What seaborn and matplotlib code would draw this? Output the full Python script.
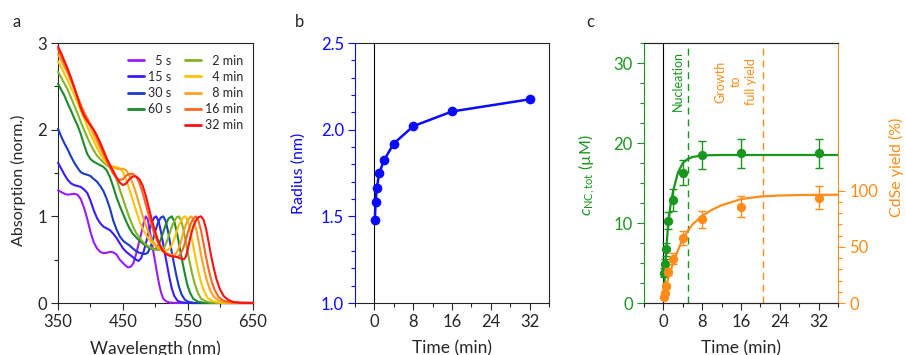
import numpy as np
import pandas as pd
import matplotlib
matplotlib.use("Agg")
import matplotlib.pyplot as plt
from matplotlib.lines import Line2D
from matplotlib.ticker import MultipleLocator, FixedLocator
import seaborn as sns

# ---------------- data: panel a (absorption spectra) ----------------
spec_labels = ["5 s", "15 s", "30 s", "60 s", "2 min", "4 min", "8 min", "16 min", "32 min"]
spec_colors = ["#9b1bff", "#3a1bff", "#1a3ac8", "#1a8a2a", "#84b424",
               "#ffc400", "#ffa020", "#ff6420", "#ff1010"]

wl_5s = [350, 355, 360, 365, 370, 375, 380, 385, 390, 395, 400, 405, 410, 415, 420, 425, 430, 435,
         440, 445, 450, 455, 458, 462, 466, 470, 474, 478, 482, 485, 488, 491, 494, 497, 500, 503,
         506, 509, 512, 516, 522, 535, 650]
abs_5s = [1.30, 1.28, 1.26, 1.25, 1.255, 1.26, 1.25, 1.20, 1.10, 0.97, 0.82, 0.70, 0.63, 0.59, 0.575,
          0.58, 0.59, 0.585, 0.56, 0.50, 0.46, 0.425, 0.41, 0.42, 0.46, 0.56, 0.68, 0.80, 0.93, 1.0,
          0.97, 0.84, 0.72, 0.58, 0.45, 0.32, 0.20, 0.11, 0.05, 0.02, 0.005, 0.0, 0.0]

wl_15s = [350, 355, 360, 365, 370, 375, 380, 385, 390, 395, 400, 405, 410, 415, 420, 425, 430, 435,
          440, 445, 450, 455, 460, 465, 470, 474, 478, 482, 486, 490, 494, 498, 501, 505, 509, 513,
          517, 521, 525, 529, 534, 540, 550, 650]
abs_15s = [1.62, 1.55, 1.48, 1.42, 1.38, 1.36, 1.35, 1.34, 1.31, 1.27, 1.18, 1.07, 0.98, 0.92, 0.88,
           0.86, 0.84, 0.80, 0.75, 0.69, 0.63, 0.59, 0.56, 0.53, 0.50, 0.485, 0.52, 0.60, 0.71, 0.84,
           0.93, 0.985, 1.0, 0.94, 0.80, 0.63, 0.47, 0.31, 0.17, 0.08, 0.025, 0.008, 0.0, 0.0]

wl_30s = [350, 355, 360, 365, 370, 375, 380, 385, 390, 395, 400, 405, 410, 415, 420, 425, 430, 435,
          440, 445, 450, 455, 460, 465, 470, 475, 480, 484, 488, 492, 496, 500, 504, 508, 512, 516,
          520, 524, 528, 532, 536, 540, 545, 550, 560, 650]
abs_30s = [2.01, 1.92, 1.84, 1.77, 1.69, 1.62, 1.56, 1.51, 1.49, 1.48, 1.465, 1.43, 1.40, 1.35, 1.29,
           1.20, 1.09, 0.95, 0.85, 0.77, 0.72, 0.69, 0.665, 0.63, 0.60, 0.58, 0.57, 0.565, 0.58, 0.64,
           0.73, 0.84, 0.93, 0.985, 1.0, 0.94, 0.80, 0.63, 0.47, 0.32, 0.19, 0.10, 0.04, 0.015, 0.0, 0.0]

wl_60s = [350, 355, 360, 365, 370, 375, 380, 385, 390, 395, 400, 405, 410, 415, 420, 425, 430, 435,
          440, 445, 450, 455, 460, 465, 470, 475, 480, 485, 490, 495, 500, 504, 508, 512, 516, 520,
          525, 529, 533, 537, 541, 545, 549, 553, 558, 565, 575, 650]
abs_60s = [2.53, 2.46, 2.39, 2.30, 2.22, 2.13, 2.05, 1.95, 1.83, 1.72, 1.66, 1.63, 1.61, 1.59, 1.57,
           1.53, 1.45, 1.34, 1.22, 1.12, 1.03, 0.94, 0.86, 0.80, 0.76, 0.72, 0.69, 0.66, 0.635, 0.62,
           0.625, 0.66, 0.73, 0.82, 0.91, 0.975, 1.0, 0.94, 0.81, 0.65, 0.49, 0.34, 0.21, 0.12, 0.05,
           0.015, 0.0, 0.0]

wl_2m = [350, 355, 360, 365, 370, 375, 380, 385, 390, 395, 400, 405, 410, 415, 420, 425, 430, 435,
         440, 445, 450, 455, 460, 465, 470, 475, 480, 485, 490, 495, 500, 505, 510, 514, 518, 522,
         526, 530, 533, 536, 540, 544, 548, 552, 556, 560, 565, 570, 577, 585, 600, 650]
abs_2m = [2.67, 2.60, 2.53, 2.46, 2.37, 2.28, 2.19, 2.09, 2.00, 1.91, 1.83, 1.76, 1.70, 1.66, 1.62,
          1.59, 1.565, 1.53, 1.43, 1.31, 1.20, 1.09, 0.98, 0.89, 0.81, 0.76, 0.71, 0.675, 0.65, 0.63,
          0.615, 0.61, 0.615, 0.65, 0.72, 0.81, 0.90, 0.96, 0.99, 1.0, 0.94, 0.81, 0.65, 0.49, 0.35,
          0.23, 0.12, 0.05, 0.02, 0.005, 0.0, 0.0]

wl_4m = [350, 355, 360, 365, 370, 375, 380, 385, 390, 395, 400, 405, 410, 415, 420, 425, 430, 435,
         440, 445, 450, 455, 460, 465, 470, 475, 480, 485, 490, 495, 500, 505, 510, 515, 520, 524,
         528, 532, 536, 540, 543, 546, 550, 554, 558, 562, 566, 570, 575, 580, 587, 595, 610, 650]
abs_4m = [2.79, 2.72, 2.64, 2.57, 2.48, 2.40, 2.31, 2.22, 2.13, 2.04, 1.95, 1.87, 1.79, 1.72, 1.66,
          1.61, 1.58, 1.575, 1.57, 1.555, 1.51, 1.42, 1.31, 1.19, 1.07, 0.95, 0.86, 0.79, 0.73, 0.69,
          0.66, 0.64, 0.62, 0.61, 0.615, 0.65, 0.72, 0.81, 0.90, 0.96, 0.99, 1.0, 0.94, 0.82, 0.66,
          0.50, 0.36, 0.24, 0.13, 0.06, 0.025, 0.008, 0.0, 0.0]

wl_8m = [350, 355, 360, 365, 370, 375, 380, 385, 390, 395, 400, 405, 410, 415, 420, 425, 430, 435,
         440, 445, 450, 455, 460, 465, 470, 475, 480, 485, 490, 495, 500, 505, 510, 515, 520, 525,
         530, 534, 538, 542, 546, 550, 553, 555, 559, 563, 567, 571, 575, 579, 584, 590, 597, 605,
         620, 650]
abs_8m = [2.87, 2.80, 2.72, 2.65, 2.56, 2.47, 2.38, 2.29, 2.20, 2.12, 2.03, 1.94, 1.86, 1.78, 1.70,
          1.64, 1.59, 1.565, 1.55, 1.545, 1.55, 1.53, 1.47, 1.38, 1.27, 1.14, 1.01, 0.90, 0.80, 0.72,
          0.67, 0.63, 0.60, 0.58, 0.565, 0.555, 0.56, 0.60, 0.68, 0.79, 0.89, 0.96, 0.99, 1.0, 0.95,
          0.84, 0.68, 0.52, 0.38, 0.26, 0.15, 0.07, 0.03, 0.01, 0.0, 0.0]

wl_16m = [350, 355, 360, 365, 370, 375, 380, 385, 390, 395, 400, 405, 410, 415, 420, 425, 430, 435,
          440, 445, 450, 455, 460, 465, 470, 475, 480, 485, 490, 495, 500, 505, 510, 515, 520, 525,
          530, 535, 538, 542, 546, 550, 554, 558, 562, 566, 570, 574, 578, 582, 586, 591, 597, 604,
          612, 625, 650]
abs_16m = [2.93, 2.85, 2.76, 2.67, 2.58, 2.48, 2.38, 2.28, 2.20, 2.13, 2.06, 1.99, 1.91, 1.82, 1.73,
           1.64, 1.56, 1.49, 1.44, 1.42, 1.43, 1.47, 1.49, 1.49, 1.46, 1.39, 1.28, 1.14, 1.00, 0.87,
           0.76, 0.68, 0.62, 0.58, 0.555, 0.54, 0.535, 0.535, 0.56, 0.62, 0.71, 0.82, 0.91, 0.97, 1.0,
           0.95, 0.84, 0.68, 0.52, 0.38, 0.26, 0.15, 0.07, 0.03, 0.01, 0.0, 0.0]

wl_32m = [350, 355, 360, 365, 370, 375, 380, 385, 390, 395, 400, 405, 410, 415, 420, 425, 430, 435,
          440, 445, 450, 455, 460, 465, 470, 475, 480, 485, 490, 495, 500, 505, 510, 515, 520, 525,
          530, 535, 540, 544, 547, 550, 554, 558, 562, 566, 570, 574, 578, 582, 586, 590, 594, 599,
          605, 612, 620, 630, 650]
abs_32m = [2.96, 2.88, 2.79, 2.70, 2.60, 2.49, 2.37, 2.25, 2.16, 2.10, 2.05, 2.00, 1.93, 1.85, 1.76,
           1.67, 1.59, 1.52, 1.45, 1.39, 1.36, 1.38, 1.43, 1.46, 1.46, 1.43, 1.36, 1.24, 1.09, 0.94,
           0.81, 0.70, 0.62, 0.57, 0.55, 0.54, 0.535, 0.525, 0.51, 0.505, 0.54, 0.63, 0.77, 0.88, 0.95,
           0.99, 1.0, 0.96, 0.85, 0.69, 0.53, 0.39, 0.27, 0.16, 0.08, 0.035, 0.012, 0.003, 0.0]

# ---------------- data: panel b (radius) ----------------
time_min = [0.083, 0.25, 0.5, 1, 2, 4, 8, 16, 32]
radius_nm = [1.48, 1.58, 1.665, 1.75, 1.825, 1.92, 2.02, 2.105, 2.175]

# ---------------- data: panel c (concentration, yield) ----------------
conc_uM = [3.8, 4.9, 6.7, 10.3, 12.9, 16.3, 18.5, 18.7, 18.7]
conc_err = [0.6, 0.6, 0.8, 1.1, 1.4, 1.6, 1.8, 1.85, 1.85]
yield_pct = [5.4, 9.2, 15.2, 28.0, 39.6, 57.7, 74.7, 85.7, 93.8]
yield_err = [0.8, 1.0, 1.5, 3.0, 4.5, 6.0, 7.6, 9.5, 10.0]

fit_t_conc = [0.1, 0.3, 0.5, 0.75, 1, 1.5, 2, 3, 4, 5, 6, 8, 12, 36]
fit_conc = [1.0, 3.6, 5.8, 8.0, 9.9, 12.4, 14.0, 16.3, 17.5, 18.0, 18.25, 18.45, 18.5, 18.5]
fit_t_yield = [0.08, 0.5, 1, 1.5, 2, 3, 4, 5, 6, 8, 10, 12, 16, 20, 24, 28, 32, 36]
fit_yield = [6, 14, 22, 29, 36, 47, 57, 64, 70, 77.5, 83, 87, 92.5, 94.8, 95.7, 96.1, 96.3, 96.4]

# ---------------- style ----------------
sns.set_style("ticks")
plt.rcParams['font.family'] = ['Lato', 'DejaVu Sans']
plt.rcParams['mathtext.fontset'] = 'custom'
plt.rcParams['mathtext.rm'] = 'Lato'
plt.rcParams['mathtext.it'] = 'Lato:italic'
plt.rcParams['axes.linewidth'] = 0.8

TICK_FS = 12
YLAB_FS = 11.5
XLAB_FS = 12.5
BLUE = "#0a0aff"
GREEN = "#19961e"
ORANGE = "#ff8c1a"

fig = plt.figure(figsize=(9.06, 3.55), dpi=100)
W, H = 906.0, 355.0


def axes_px(left, top, right, bottom):
    return fig.add_axes([left / W, 1 - bottom / H, (right - left) / W, (bottom - top) / H])


def style_ticks(ax):
    ax.tick_params(which='major', direction='out', length=5, width=0.8, labelsize=TICK_FS, pad=3)
    ax.tick_params(which='minor', direction='out', length=3, width=0.8)


XLAB_Y = (303 - 340) / 260

# ---------------- panel a ----------------
ax_a = axes_px(58, 43, 253, 303)
wls = [wl_5s, wl_15s, wl_30s, wl_60s, wl_2m, wl_4m, wl_8m, wl_16m, wl_32m]
abss = [abs_5s, abs_15s, abs_30s, abs_60s, abs_2m, abs_4m, abs_8m, abs_16m, abs_32m]
df_spec = pd.concat([pd.DataFrame({"wl": w, "A": a, "time": lab})
                     for w, a, lab in zip(wls, abss, spec_labels)], ignore_index=True)
sns.lineplot(data=df_spec, x="wl", y="A", hue="time", hue_order=spec_labels,
             palette=spec_colors, estimator=None, sort=False, legend=False,
             lw=1.5, ax=ax_a, clip_on=False, zorder=3)
ax_a.set_xlim(350, 650)
ax_a.set_ylim(0, 3)
ax_a.xaxis.set_major_locator(FixedLocator([350, 450, 550, 650]))
ax_a.xaxis.set_minor_locator(MultipleLocator(50))
ax_a.yaxis.set_major_locator(MultipleLocator(1))
ax_a.yaxis.set_minor_locator(MultipleLocator(0.5))
style_ticks(ax_a)
ax_a.set_xlabel("Wavelength (nm)", fontsize=XLAB_FS)
ax_a.set_ylabel("Absorption (norm.)", fontsize=YLAB_FS)
ax_a.xaxis.set_label_coords(0.5, XLAB_Y)
ax_a.yaxis.set_label_coords((26 - 58) / 195, 0.47)

fs = "\u2007"
leg_labels = [fs + "5 s", "15 s", "30 s", "60 s", " ",
              fs + "2 min", fs + "4 min", fs + "8 min", "16 min", "32 min"]
leg_colors = spec_colors[:4] + ["none"] + spec_colors[4:]
handles = [Line2D([0], [0], color=c, lw=2) for c in leg_colors]
ax_a.legend(handles, leg_labels, ncol=2, loc="upper left", bbox_to_anchor=(0.36, 0.955),
            frameon=False, fontsize=9, handlelength=1.25, handletextpad=0.35,
            columnspacing=1.1, labelspacing=0.33, borderpad=0, borderaxespad=0)

# ---------------- panel b ----------------
ax_b = axes_px(355, 43, 549, 303)
ax_b.axvline(0, color="black", lw=0.8, zorder=1)
sns.lineplot(x=time_min, y=radius_nm, ax=ax_b, color=BLUE, marker="o", markersize=7,
             markeredgewidth=0, lw=1.8, zorder=3)
ax_b.set_xlim(-4, 36)
ax_b.set_ylim(1.0, 2.5)
ax_b.xaxis.set_major_locator(MultipleLocator(8))
ax_b.xaxis.set_minor_locator(MultipleLocator(4))
ax_b.yaxis.set_major_locator(MultipleLocator(0.5))
ax_b.yaxis.set_minor_locator(MultipleLocator(0.1))
ax_b.yaxis.set_major_formatter(matplotlib.ticker.FormatStrFormatter("%.1f"))
style_ticks(ax_b)
ax_b.tick_params(axis="y", which="both", colors=BLUE)
ax_b.spines["left"].set_color(BLUE)
ax_b.set_xlabel("Time (min)", fontsize=XLAB_FS)
ax_b.set_ylabel("Radius (nm)", fontsize=YLAB_FS, color=BLUE)
ax_b.xaxis.set_label_coords(0.5, XLAB_Y)
ax_b.yaxis.set_label_coords((306 - 355) / 194, 0.5)

# ---------------- panel c ----------------
ax_c = axes_px(644, 43, 838, 303)
ax_c.axvline(0, color="black", lw=0.8, zorder=1)
ax_c.axvline(5, color=GREEN, lw=1.0, ls=(0, (5, 3.5)), zorder=1)
ax_c.axvline(20.5, color=ORANGE, lw=1.0, ls=(0, (5, 3.5)), zorder=1)
ax_c.errorbar(time_min, conc_uM, yerr=conc_err, fmt="none", ecolor=GREEN,
              elinewidth=1.0, capsize=3.2, capthick=1.0, zorder=2)
sns.lineplot(x=fit_t_conc, y=fit_conc, ax=ax_c, color=GREEN, lw=1.6, zorder=3)
sns.scatterplot(x=time_min, y=conc_uM, ax=ax_c, color=GREEN, s=45, linewidth=0, zorder=4)
ax_c.set_xlim(-4, 36)
ax_c.set_ylim(0, 32.5)
ax_c.xaxis.set_major_locator(MultipleLocator(8))
ax_c.xaxis.set_minor_locator(MultipleLocator(4))
ax_c.yaxis.set_major_locator(MultipleLocator(10))
ax_c.yaxis.set_minor_locator(MultipleLocator(2.5))
style_ticks(ax_c)
ax_c.tick_params(axis="y", which="both", colors=GREEN)
ax_c.spines["left"].set_color(GREEN)
ax_c.spines["right"].set_visible(False)
ax_c.set_xlabel("Time (min)", fontsize=XLAB_FS)
ax_c.set_ylabel(r"$c_{\mathrm{NC,tot}}$ (µM)", fontsize=YLAB_FS, color=GREEN)
ax_c.xaxis.set_label_coords(0.5, XLAB_Y)
ax_c.yaxis.set_label_coords((597 - 644) / 194, 0.49)
ax_c.text(3.0, 27.7, "Nucleation", rotation=90, color=GREEN, ha="center", va="center",
          fontsize=9)
ax_c.text(14.9, 27.7, "Growth\nto\nfull yield", rotation=90, color=ORANGE, ha="center",
          va="center", fontsize=9, multialignment="center", linespacing=1.35)

ax_c2 = ax_c.twinx()
ax_c2.errorbar(time_min, yield_pct, yerr=yield_err, fmt="none", ecolor=ORANGE,
               elinewidth=1.0, capsize=3.2, capthick=1.0, zorder=2)
sns.lineplot(x=fit_t_yield, y=fit_yield, ax=ax_c2, color=ORANGE, lw=1.6, zorder=3)
sns.scatterplot(x=time_min, y=yield_pct, ax=ax_c2, color=ORANGE, s=45, linewidth=0, zorder=4)
ax_c2.set_xlim(-4, 36)
ax_c2.set_ylim(0, 231.5)
ax_c2.yaxis.set_major_locator(FixedLocator([0, 50, 100]))
ax_c2.yaxis.set_minor_locator(FixedLocator([10, 20, 30, 40, 60, 70, 80, 90]))
style_ticks(ax_c2)
ax_c2.tick_params(axis="y", which="both", colors=ORANGE)
ax_c2.spines["right"].set_color(ORANGE)
ax_c2.spines["left"].set_visible(False)
ax_c2.set_ylabel("CdSe yield (%)", fontsize=YLAB_FS, color=ORANGE, rotation=90)
ax_c2.yaxis.set_label_coords((889 - 644) / 194, 0.52)

# panel letters
fig.text(16.7 / W, 1 - 21.7 / H, "a", ha="center", va="center", fontsize=12)
fig.text(300 / W, 1 - 21.7 / H, "b", ha="center", va="center", fontsize=12)
fig.text(590 / W, 1 - 21.7 / H, "c", ha="center", va="center", fontsize=12)

fig.savefig("out.png", dpi=100)
